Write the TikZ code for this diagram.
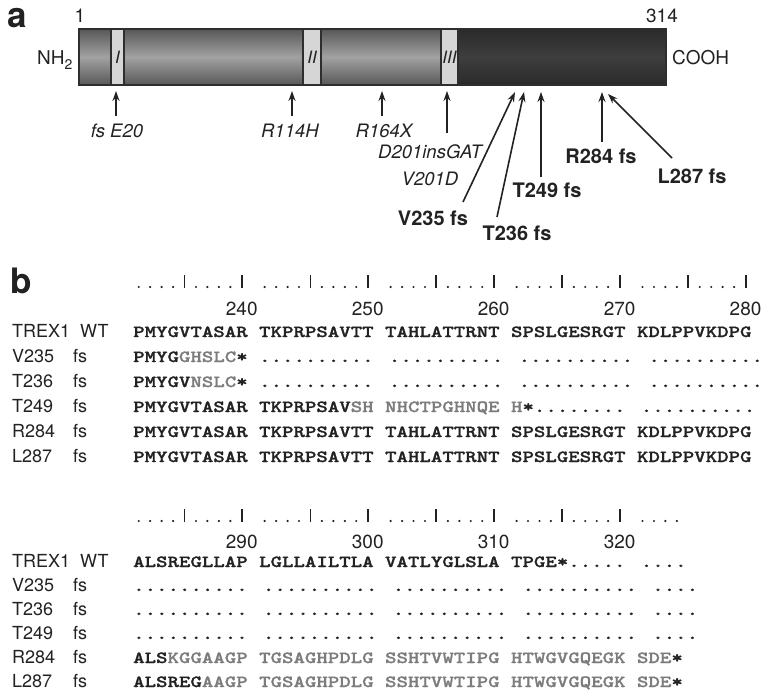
\documentclass[tikz,border=0pt]{standalone}
\usepackage{fontspec}
\setmainfont{TeX Gyre Heros}
\newfontfamily\seqfont{lmmonolt10-bold}[Extension=.otf, FakeStretch=1.283, FakeBold=1.3]
\usetikzlibrary{arrows.meta}
\definecolor{bartop}{HTML}{585858}
\definecolor{barmid}{HTML}{A2A2A2}
\definecolor{darktop}{HTML}{2A2A2A}
\definecolor{darkmid}{HTML}{3E3E3E}
\definecolor{boxfill}{HTML}{D6D6D6}
\definecolor{edge}{HTML}{2E2E2E}
\definecolor{mut}{HTML}{7C7C7C}
\definecolor{ink}{HTML}{222222}
\tikzset{
  seq/.style={anchor=base west, inner sep=0pt, text=ink, font=\seqfont\fontsize{17}{17}\selectfont},
  lab/.style={anchor=base west, inner sep=0pt, text=ink, font=\fontsize{18}{20}\selectfont},
  num/.style={anchor=base, inner sep=0pt, text=ink, font=\fontsize{19}{20}\selectfont},
  itl/.style={anchor=base, inner sep=0pt, text=ink, font=\itshape\fontsize{18.5}{20}\selectfont},
  bld/.style={anchor=base, inner sep=0pt, text=ink, font=\bfseries\fontsize{20}{22}\selectfont},
  roman/.style={inner sep=0pt, text=ink, font=\itshape\fontsize{17}{17}\selectfont},
  panel/.style={anchor=base west, inner sep=0pt, text=ink, font=\bfseries\fontsize{35}{36}\selectfont},
  arr/.style={draw=ink, line width=1.6pt, -{Stealth[length=10pt,width=7pt]}},
}
\begin{document}
\begin{tikzpicture}[x=1pt,y=-1pt]
\useasboundingbox (0,0) rectangle (764,694);
% ---------------- panel a ----------------
\node[panel] (pa) at (7,27) {a};
\shade[top color=bartop, bottom color=bartop, middle color=barmid] (79,29) rectangle (441,85);
\shade[top color=darktop, bottom color=darktop, middle color=darkmid] (458,29) rectangle (666,85);
\filldraw[fill=boxfill, draw=edge, line width=1.3pt] (111,29) rectangle (124,85);
\filldraw[fill=boxfill, draw=edge, line width=1.3pt] (303,29) rectangle (321,85);
\filldraw[fill=boxfill, draw=edge, line width=1.3pt] (441,29) rectangle (458,85);
\draw[edge, line width=1.3pt] (79,29) rectangle (666,85);
\node[roman] (r1) at (117.5,57) {I};
\node[roman] (r2) at (312,57) {II};
\node[roman] (r3) at (449.5,57) {III};
\node[num] (n1) at (80,22) {1};
\node[num] (n314) at (662,22) {314};
\node[lab, font=\fontsize{19}{20}\selectfont] (nh) at (37,64) {NH\raisebox{-5pt}{\fontsize{14}{14}\selectfont 2}};
\node[lab, font=\fontsize{19}{20}\selectfont] (cooh) at (672,64) {COOH};
% arrows and mutation labels
\coordinate (tE) at (116,91);  \coordinate (bE) at (116,116);
\coordinate (tR114) at (292,91); \coordinate (bR114) at (292,116);
\coordinate (tR164) at (382,91); \coordinate (bR164) at (382,116);
\coordinate (tD201) at (447,91); \coordinate (bD201) at (447,133);
\coordinate (tV235) at (515,92); \coordinate (bV235) at (463,202);
\coordinate (tT236) at (524,92); \coordinate (bT236) at (497,217);
\coordinate (tT249) at (541,92); \coordinate (bT249) at (541,177);
\coordinate (tR284) at (602,92); \coordinate (bR284) at (602,142);
\coordinate (tL287) at (608,94); \coordinate (bL287) at (672,158);
\draw[arr] (bE) -- (tE);
\draw[arr] (bR114) -- (tR114);
\draw[arr] (bR164) -- (tR164);
\draw[arr] (bD201) -- (tD201);
\draw[arr] (bV235) -- (tV235);
\draw[arr] (bT236) -- (tT236);
\draw[arr] (bT249) -- (tT249);
\draw[arr] (bR284) -- (tR284);
\draw[arr] (bL287) -- (tL287);
\node[itl] (lE) at (117,137) {fs E20};
\node[itl] (lR114) at (290,137) {R114H};
\node[itl] (lR164) at (384,137) {R164X};
\node[itl] (lD201) at (430,158) {D201insGAT};
\node[itl] (lV201) at (430,185) {V201D};
\node[bld] (lV235) at (433,225) {V235 fs};
\node[bld] (lT236) at (517,240) {T236 fs};
\node[bld] (lT249) at (547,197) {T249 fs};
\node[bld] (lR284) at (601,163) {R284 fs};
\node[bld] (lL287) at (692,183) {L287 fs};
% ---------------- panel b ----------------
\node[panel] (pb) at (10,293) {b};
% rulers
\def\cw{11.45}
\foreach \g in {0,...,4}{
  \foreach \j in {0,1,2,3,5,6,7,8}{
    \fill[ink] ({133+(\g*11+\j+0.5)*\cw},287) circle (1.2pt);
  }
  \foreach \j in {4,9}{
    \draw[ink, line width=1.9pt] ({133+(\g*11+\j+0.5)*\cw},288) -- ({133+(\g*11+\j+0.5)*\cw},275);
  }
}
\foreach \g in {0,...,3}{
  \foreach \j in {0,1,2,3,5,6,7,8}{
    \fill[ink] ({133+(\g*11+\j+0.5)*\cw},521) circle (1.2pt);
  }
  \foreach \j in {4,9}{
    \draw[ink, line width=1.9pt] ({133+(\g*11+\j+0.5)*\cw},522) -- ({133+(\g*11+\j+0.5)*\cw},509);
  }
}
\foreach \j in {0,1,2,3}{
  \fill[ink] ({133+(44+\j+0.5)*\cw},521) circle (1.2pt);
}
\node[num] (k240) at ({133+9.5*\cw},315) {240};
\node[num] (k250) at ({133+20.5*\cw},315) {250};
\node[num] (k260) at ({133+31.5*\cw},315) {260};
\node[num] (k270) at ({133+42.5*\cw},315) {270};
\node[num] (k280) at ({133+53.5*\cw},315) {280};
\node[num] (k290) at ({133+9.5*\cw},548) {290};
\node[num] (k300) at ({133+20.5*\cw},548) {300};
\node[num] (k310) at ({133+31.5*\cw},548) {310};
\node[num] (k320) at ({133+42.5*\cw},548) {320};
% row labels block 1
\node[lab] (a1) at (12,337) {TREX1};   \node[lab] (a1b) at (80,337) {WT};
\node[lab] (a2) at (12,362) {V235};    \node[lab] (a2b) at (73,362) {fs};
\node[lab] (a3) at (12,387) {T236};    \node[lab] (a3b) at (73,387) {fs};
\node[lab] (a4) at (12,412) {T249};    \node[lab] (a4b) at (73,412) {fs};
\node[lab] (a5) at (12,437) {R284};    \node[lab] (a5b) at (73,437) {fs};
\node[lab] (a6) at (12,462) {L287};    \node[lab] (a6b) at (73,462) {fs};
% sequences block 1
\node[seq] (s1) at (133,337) {PMYGVTASAR TKPRPSAVTT TAHLATTRNT SPSLGESRGT KDLPPVKDPG};
\node[seq] (s2) at (133,362) {PMYG{\color{mut}GHSLC}* .......... .......... .......... ..........};
\node[seq] (s3) at (133,387) {PMYGV{\color{mut}NSLC}* .......... .......... .......... ..........};
\node[seq] (s4) at (133,412) {PMYGVTASAR TKPRPSAV{\color{mut}SH NHCTPGHNQE H}*........ ..........};
\node[seq] (s5) at (133,437) {PMYGVTASAR TKPRPSAVTT TAHLATTRNT SPSLGESRGT KDLPPVKDPG};
\node[seq] (s6) at (133,462) {PMYGVTASAR TKPRPSAVTT TAHLATTRNT SPSLGESRGT KDLPPVKDPG};
% row labels block 2
\node[lab] (c1) at (12,567) {TREX1};   \node[lab] (c1b) at (80,567) {WT};
\node[lab] (c2) at (12,591) {V235};    \node[lab] (c2b) at (73,591) {fs};
\node[lab] (c3) at (12,615) {T236};    \node[lab] (c3b) at (73,615) {fs};
\node[lab] (c4) at (12,639) {T249};    \node[lab] (c4b) at (73,639) {fs};
\node[lab] (c5) at (12,663) {R284};    \node[lab] (c5b) at (73,663) {fs};
\node[lab] (c6) at (12,687) {L287};    \node[lab] (c6b) at (73,687) {fs};
% sequences block 2
\node[seq] (t1) at (133,567) {ALSREGLLAP LGLLAILTLA VATLYGLSLA TPGE*..... ....};
\node[seq] (t2) at (133,591) {.......... .......... .......... .......... ....};
\node[seq] (t3) at (133,615) {.......... .......... .......... .......... ....};
\node[seq] (t4) at (133,639) {.......... .......... .......... .......... ....};
\node[seq] (t5) at (133,663) {ALS{\color{mut}KGGAAGP TGSAGHPDLG SSHTVWTIPG HTWGVGQEGK SDE}*};
\node[seq] (t6) at (133,687) {ALSREG{\color{mut}AAGP TGSAGHPDLG SSHTVWTIPG HTWGVGQEGK SDE}*};
\end{tikzpicture}
\end{document}
